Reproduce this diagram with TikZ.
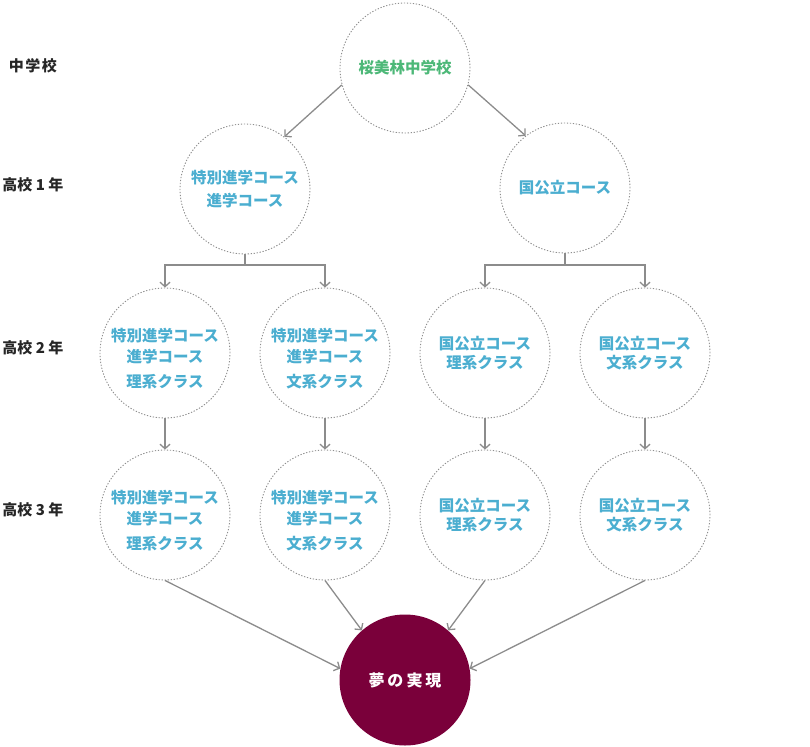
\documentclass[tikz,border=0pt]{standalone}
\usepackage{fontspec}
\setmainfont{Noto Sans CJK JP}
\usetikzlibrary{arrows.meta}
\definecolor{txtblue}{HTML}{4BAED0}
\definecolor{txtgreen}{HTML}{4DB878}
\definecolor{maroon}{HTML}{7A003A}
\definecolor{linegray}{HTML}{8C8C8C}
\definecolor{dotgray}{HTML}{8E8E8E}
\newcommand{\lift}{\rule{0pt}{24pt}}
\begin{document}
\begin{tikzpicture}[x=1pt,y=-1pt,
  bubble/.style={circle,draw=dotgray,line width=0.9pt,dash pattern=on 1.3pt off 1.7pt,
    minimum size=130pt,inner sep=0pt,align=center,text=txtblue,
    font=\bfseries\fontsize{15.5}{21}\selectfont},
  goal/.style={circle,fill=maroon,minimum size=131pt,inner sep=0pt,text=white,
    font=\bfseries\fontsize{16}{20}\selectfont},
  yearlabel/.style={font=\bfseries\fontsize{15}{18}\selectfont,text=black!85},
  conn/.style={draw=linegray,line width=1.3pt,-{Straight Barb[length=4.5pt,width=10pt,line width=1.3pt]}}
]
\path[use as bounding box] (0,0) rectangle (810,746);

% year labels
\node[yearlabel] (l0) at (33,66) {中\hspace{1.5pt}学\hspace{1.5pt}校};
\node[yearlabel] (l1) at (33,185) {高校 1 年};
\node[yearlabel] (l2) at (33,348) {高校 2 年};
\node[yearlabel] (l3) at (33,510) {高校 3 年};

% circles
\node[bubble,text=txtgreen] (top) at (405,68) {桜美林中学校};
\node[bubble] (r1a) at (245,189) {特別進学コース\\[2pt]進学コース};
\node[bubble] (r1b) at (565,188) {国公立コース};

\node[bubble] (r2a) at (165,353) {\lift 特別進学コース\\進学コース\\[4pt]理系クラス};
\node[bubble] (r2b) at (325,353) {\lift 特別進学コース\\進学コース\\[4pt]文系クラス};
\node[bubble] (r2c) at (485,353) {国公立コース\\[-2pt]理系クラス};
\node[bubble] (r2d) at (645,353) {国公立コース\\[-2pt]文系クラス};

\node[bubble] (r3a) at (165,515) {\lift 特別進学コース\\進学コース\\[4pt]理系クラス};
\node[bubble] (r3b) at (325,515) {\lift 特別進学コース\\進学コース\\[4pt]文系クラス};
\node[bubble] (r3c) at (485,515) {国公立コース\\[-2pt]理系クラス};
\node[bubble] (r3d) at (645,515) {国公立コース\\[-2pt]文系クラス};

\node[goal] (bot) at (405,680) {夢\hspace{3pt}の\hspace{3pt}実\hspace{3pt}現};

% connectors
\coordinate (j1) at (245,265);
\coordinate (j2) at (565,265);
\draw[conn] (top.195) -- (r1a.53);
\draw[conn] (top.-15) -- (r1b.127);

\draw[conn] (r1a.south) -- (j1) -| (r2a.north);
\draw[conn] (j1) -| (r2b.north);
\draw[conn] (r1b.south) -- (j2) -| (r2c.north);
\draw[conn] (j2) -| (r2d.north);

\draw[conn] (r2a.south) -- (r3a.north);
\draw[conn] (r2b.south) -- (r3b.north);
\draw[conn] (r2c.south) -- (r3c.north);
\draw[conn] (r2d.south) -- (r3d.north);

\draw[conn] (r3a.south) -- (bot.170);
\draw[conn] (r3b.south) -- (bot.131);
\draw[conn] (r3c.south) -- (bot.49);
\draw[conn] (r3d.south) -- (bot.10);
\end{tikzpicture}
\end{document}
